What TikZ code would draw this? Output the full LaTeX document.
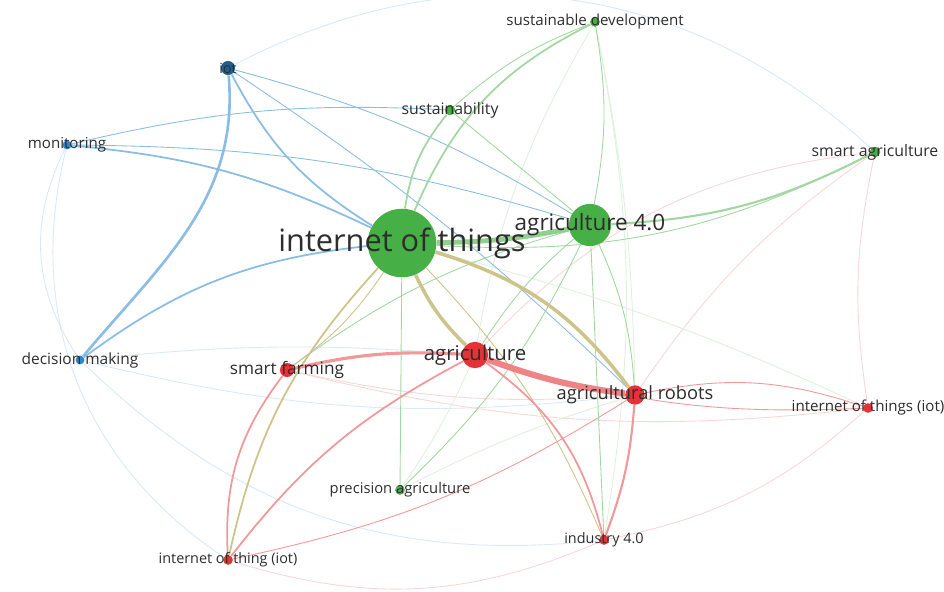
\documentclass[tikz,border=0pt]{standalone}
\usepackage{fontspec}
\setmainfont{Open Sans}
\usepackage{tikz}
\usetikzlibrary{arrows.meta}
\pgfdeclarelayer{edges}
\pgfsetlayers{edges,main}
\definecolor{kwgreen}{RGB}{70,175,70}
\definecolor{kwred}{RGB}{228,50,55}
\definecolor{kwblue}{RGB}{45,135,205}
\definecolor{kwolive}{RGB}{185,170,90}
\definecolor{kwtext}{RGB}{45,45,45}

\begin{document}
\begin{tikzpicture}[x=0.2mm, y=-0.2mm,
    kw/.style={circle, inner sep=0pt, minimum size=#1},
    gdot/.style={kw=#1, fill=kwgreen},
    rdot/.style={kw=#1, fill=kwred},
    bdot/.style={kw=#1, fill=kwblue},
    txt/.style={text=kwtext, inner sep=0pt, font=\fontsize{#1}{#1}\selectfont},
    gedge/.style={draw=kwgreen!50, line width=0.5pt},
    redge/.style={draw=kwred!50, line width=0.5pt},
    bedge/.style={draw=kwblue!55, line width=0.5pt},
    oedge/.style={draw=kwolive!70, line width=0.5pt},
    faint/.style={line width=0.5pt}]
    \useasboundingbox (0,0) rectangle (944,591);
    \clip (0,0) rectangle (944,591);

    \node[bdot=8pt, fill=kwblue!70!black, label={[txt=8]center:iot}] (iot) at (228,68) {};
    \node[bdot=5pt, label={[txt=8.6]center:monitoring}] (monitoring) at (67,145) {};
    \node[gdot=5.5pt, label={[txt=8.6]center:sustainable development}] (susdev) at (595,22) {};
    \node[gdot=6pt, label={[txt=9]center:sustainability}] (sustain) at (450,110) {};
    \node[gdot=6pt, label={[txt=9]center:smart agriculture}] (smartagri) at (875,152) {};
    \node[gdot=24pt, label={[txt=12.8]center:agriculture 4.0}] (agri4) at (590,225) {};
    \node[gdot=39pt, label={[txt=17.5]center:internet of things}] (iothings) at (402,243) {};
    \node[bdot=5pt, label={[txt=8.8]center:decision making}] (decision) at (80,360) {};
    \node[rdot=8pt, label={[txt=9.8]center:smart farming}] (smartfarm) at (287,370) {};
    \node[rdot=15pt, label={[txt=11.6]center:agriculture}] (agri) at (475,355) {};
    \node[rdot=11pt, label={[txt=10.4]center:agricultural robots}] (robots) at (635,395) {};
    \node[rdot=5.5pt, label={[txt=8.6]center:internet of things (iot)}] (iothingsiot) at (868,408) {};
    \node[gdot=5.5pt, label={[txt=8.4]center:precision agriculture}] (precision) at (400,490) {};
    \node[rdot=5.5pt, label={[txt=8.2]center:industry 4.0}] (industry) at (604,540) {};
    \node[rdot=5.5pt, label={[txt=8.2]center:internet of thing (iot)}] (iothing) at (228,560) {};

    \begin{pgfonlayer}{edges}
    \draw[faint, kwblue!18] (iot) to[bend left=35] (smartagri);
    \draw[faint, kwgreen!18] (susdev) to[bend left=5] (robots);
    \draw[faint, kwgreen!18] (susdev) to[bend left=10] (industry);
    \draw[faint, kwgreen!18] (susdev) to[bend right=10] (agri);
    \draw[faint, kwblue!18] (monitoring) to[bend right=30] (decision);
    \draw[faint, kwblue!18] (monitoring) to[bend right=35] (iothing);
    \draw[faint, kwblue!18] (decision) to[bend right=25] (industry);
    \draw[faint, kwblue!18] (decision) to[bend right=10] (robots);
    \draw[faint, kwblue!18] (decision) to[bend left=5] (agri);
    \draw[faint, kwred!20] (smartfarm) to[bend right=8] (robots);
    \draw[faint, kwred!20] (smartfarm) to[bend right=10] (iothingsiot);
    \draw[faint, kwred!20] (iothing) to[bend right=20] (industry);
    \draw[faint, kwred!20] (iothingsiot) to[bend left=10] (smartagri);
    \draw[faint, kwred!20] (robots) to[bend left=10] (smartagri);
    \draw[faint, kwred!20] (agri) to[bend left=20] (smartagri);
    \draw[faint, kwred!20] (industry) to[bend right=15] (iothingsiot);
    \draw[faint, kwgreen!18] (iothings) to[bend left=5] (iothingsiot);
    \draw[faint, kwgreen!18] (precision) to[bend right=5] (agri);
    \draw[faint, kwgreen!18] (precision) to[bend left=5] (robots);
    \draw[bedge] (iot) to[bend left=8] (agri4);
    \draw[bedge] (iot) to[bend left=5] (robots);
    \draw[bedge] (monitoring) to[bend left=8] (agri4);
    \draw[bedge] (monitoring) to[bend left=8] (sustain);
    \draw[gedge] (agri4) to[bend left=10] (robots);
    \draw[gedge] (agri4) to[bend right=8] (agri);
    \draw[gedge] (agri4) to[bend right=10] (smartfarm);
    \draw[oedge] (smartfarm) to[bend right=10] (iothings);
    \draw[gedge] (susdev) to[bend left=10] (agri4);
    \draw[gedge] (susdev) to[bend right=10] (sustain);
    \draw[gedge] (sustain) to (agri4);
    \draw[gedge] (iothings) to[bend right=15] (smartagri);
    \draw[redge] (robots) to[bend left=15] (iothingsiot);
    \draw[redge] (agri) to[bend right=10] (iothingsiot);
    \draw[redge] (iothing) to[bend right=10] (robots);
    \draw[gedge] (precision) to[bend right=10] (agri4);
    \draw[gedge] (precision) to (iothings);
    \draw[oedge] (industry) to[bend right=10] (iothings);
    \draw[gedge] (industry) to (agri4);
    \draw[bedge, line width=1.5pt] (iot) to[out=-85, in=50] (decision);
    \draw[bedge, line width=1pt] (iot) to[bend right=15] (iothings);
    \draw[bedge, line width=1pt] (monitoring) to[bend left=10] (iothings);
    \draw[bedge, line width=1pt] (decision) to[bend left=15] (iothings);
    \draw[gedge, line width=1.2pt] (agri4) to[bend right=12] (smartagri);
    \draw[gedge, line width=1pt] (sustain) to[bend right=15] (iothings);
    \draw[gedge, line width=1pt] (susdev) to[bend right=20] (iothings);
    \draw[redge, line width=1.2pt] (robots) to[bend left=8] (industry);
    \draw[redge, line width=1pt] (agri) to[bend left=20] (industry);
    \draw[redge, line width=1pt] (iothing) to[bend left=12] (agri);
    \draw[redge, line width=1pt] (iothing) to[bend left=20] (smartfarm);
    \draw[oedge, line width=1pt] (iothing) to[bend left=15] (iothings);
    \draw[redge, line width=1.8pt] (smartfarm) to[bend left=8] (agri);
    \draw[oedge, line width=2pt] (iothings) to[bend right=10] (agri);
    \draw[oedge, line width=2pt] (iothings) to[bend left=18] (robots);
    \draw[gedge, draw=kwgreen!60, line width=2.8pt] (iothings) to[bend right=5] (agri4);
    \draw[redge, draw=kwred!60, line width=3.5pt] (agri) to[bend right=6] (robots);
    \end{pgfonlayer}
\end{tikzpicture}
\end{document}
